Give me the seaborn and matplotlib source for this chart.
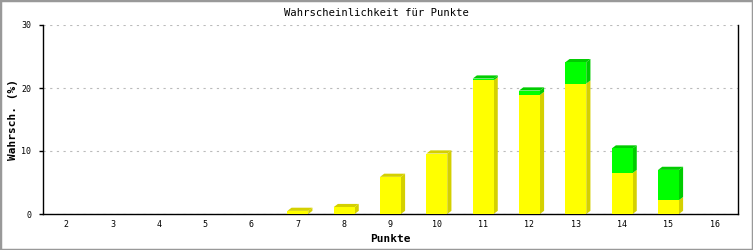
import matplotlib
matplotlib.use("Agg")
import matplotlib.pyplot as plt
import seaborn as sns
import pandas as pd
from matplotlib.patches import Polygon, Rectangle

punkte = ["2", "3", "4", "5", "6", "7", "8", "9", "10", "11", "12", "13", "14", "15", "16"]
gelb = [0, 0, 0, 0, 0, 0.5, 1.1, 5.9, 9.6, 21.2, 18.9, 20.7, 6.5, 2.2, 0]
gruen = [0, 0, 0, 0, 0, 0, 0, 0, 0, 0.3, 0.7, 3.4, 3.9, 4.8, 0]
yticks = [0, 10, 20, 30]

df = pd.DataFrame({"Punkte": punkte, "Gelb": gelb, "Gruen": gruen})
df["Gesamt"] = df["Gelb"] + df["Gruen"]

sns.set_theme(style="white")
plt.rcParams["font.family"] = ["DejaVu Sans Mono", "DejaVu Sans"]

fig = plt.figure(figsize=(7.53, 2.5), dpi=100)
ax = fig.add_axes([43 / 753, 1 - 214 / 250, 695 / 753, 189 / 250])

YEL, YEL_D = "#ffff00", "#d4d000"
GRN, GRN_D = "#00ff00", "#00cc00"
W = 0.45

sns.barplot(data=df, x="Punkte", y="Gesamt", color=GRN, saturation=1, width=W,
            ax=ax, linewidth=0, zorder=3)
n_tot = len(ax.patches)
sns.barplot(data=df, x="Punkte", y="Gelb", color=YEL, saturation=1, width=W,
            ax=ax, linewidth=0, zorder=3)
tot_patches = ax.patches[:n_tot]
yel_patches = ax.patches[n_tot:2 * n_tot]

dx, dy = 0.09, 0.5
for tp, yp, g in zip(tot_patches, yel_patches, gruen):
    h_tot = tp.get_height()
    if h_tot <= 0:
        continue
    x0 = tp.get_x()
    x1 = x0 + tp.get_width()
    hy = yp.get_height()
    if hy > 0:
        ax.add_patch(Polygon([(x1, 0), (x1 + dx, dy), (x1 + dx, hy + dy), (x1, hy)],
                             closed=True, facecolor=YEL_D, edgecolor="none", zorder=2))
    if g > 0:
        ax.add_patch(Polygon([(x1, hy), (x1 + dx, hy + dy), (x1 + dx, h_tot + dy), (x1, h_tot)],
                             closed=True, facecolor=GRN_D, edgecolor="none", zorder=2))
        topc = GRN_D
    else:
        topc = YEL_D
    ax.add_patch(Polygon([(x0, h_tot), (x0 + dx, h_tot + dy), (x1 + dx, h_tot + dy), (x1, h_tot)],
                         closed=True, facecolor=topc, edgecolor="none", zorder=2))

ax.set_xlim(-0.5, len(punkte) - 0.5)
ax.set_ylim(0, 30)
ax.set_yticks(yticks)
ax.set_yticklabels([str(t) for t in yticks])
ax.yaxis.grid(True, linestyle=(0, (2, 4)), color="#bbbbbb", linewidth=0.8, zorder=0)
ax.xaxis.grid(False)
ax.set_axisbelow(True)

for s in ["left", "bottom", "right"]:
    ax.spines[s].set_visible(True)
    ax.spines[s].set_color("black")
    ax.spines[s].set_linewidth(1.0)
ax.spines["top"].set_visible(False)

ax.tick_params(axis="y", which="both", left=True, length=3, width=1, color="black",
               pad=5.5, labelsize=6, labelcolor="black")
ax.tick_params(axis="x", which="both", bottom=False, length=0, pad=4,
               labelsize=6, labelcolor="black")

ax.set_xlabel("Punkte", fontsize=8, fontweight="bold", color="black")
ax.set_ylabel("Wahrsch. (%)", fontsize=8, fontweight="bold", color="black")
ax.xaxis.set_label_coords(0.5, -(239 - 214) / 189, transform=ax.transAxes)
ax.xaxis.label.set_va("center")
ax.yaxis.set_label_coords(-(43 - 13) / 695, 0.5, transform=ax.transAxes)
ax.yaxis.label.set_va("center")

fig.text(0.5, 1 - 13 / 250, "Wahrscheinlichkeit für Punkte", ha="center", va="center",
         fontsize=7.6, color="black")

fig.patches.append(Rectangle((0, 0), 1, 1, transform=fig.transFigure, fill=False,
                             edgecolor="#999999", linewidth=2.5, zorder=10))

fig.savefig("out.png", dpi=100)
